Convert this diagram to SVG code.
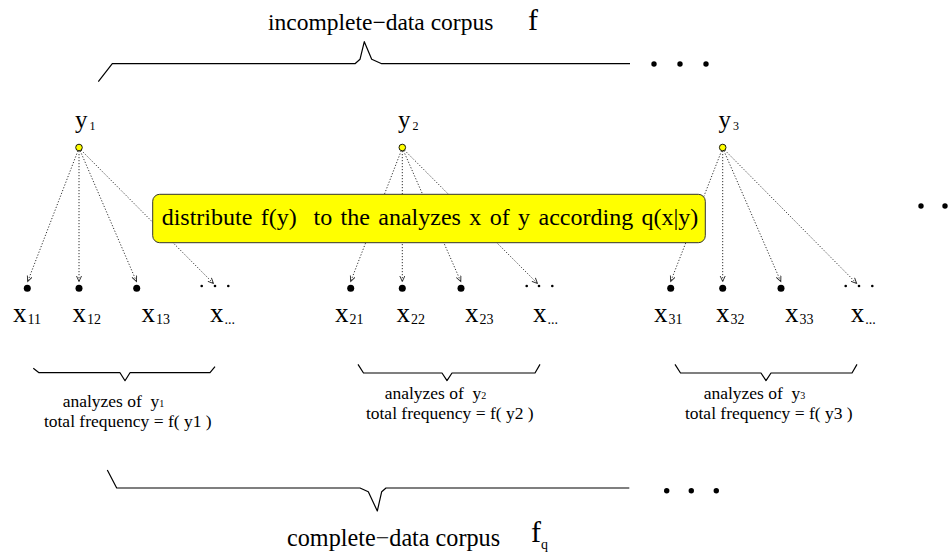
<svg xmlns="http://www.w3.org/2000/svg" width="948" height="557" viewBox="0 0 948 557">
  <style>
    text { font-family: "Liberation Serif", "Times New Roman", serif; fill: #000; }
    .title { font-size: 23.5px; }
    .title2 { font-size: 24.2px; }
    .big { font-size: 30px; }
    .ylab { font-size: 25px; }
    .xlab { font-size: 27px; }
    .sub { font-size: 14px; }
    .subs { font-size: 12px; }
    .note { font-size: 24px; word-spacing: 2.4px; }
    .small { font-size: 17.5px; }
    .tiny { font-size: 10px; }
    .brace { fill: none; stroke: #000; stroke-width: 1.2; stroke-linejoin: round; }
    .edge { fill: none; stroke: #333; stroke-width: 1; stroke-dasharray: 1.2 1.8; }
    .ynode { fill: #ffff00; stroke: #000; stroke-width: 0.9; }
    .xnode { fill: #000; }
    .box { fill: #ffff00; stroke: #333; stroke-width: 1; }
  </style>
  <defs>
    <marker id="arrow" markerUnits="userSpaceOnUse" markerWidth="8" markerHeight="8" refX="6" refY="3" orient="auto">
      <path d="M0.5,0.5 L6,3 L0.5,5.5" fill="none" stroke="#222" stroke-width="0.9"/>
    </marker>
  </defs>

  <rect width="948" height="557" fill="#fff"/>

  <!-- incomplete-data corpus -->
  <g id="incomplete-corpus">
    <text class="title" x="268" y="30">incomplete−data corpus</text>
    <text class="big" x="528" y="30">f</text>
    <path class="brace" d="M98.3,81.7 L112.3,63.7 L355,63.7 L360,59.3 L364.3,41.7 L371.7,59.3 L381.7,63.7 L630,63.7"/>
    <circle cx="654" cy="64" r="2.7"/>
    <circle cx="680" cy="64" r="2.7"/>
    <circle cx="706" cy="64" r="2.7"/>
  </g>

  <!-- connectors: y -> analyses x -->
  <g id="connectors" marker-end="url(#arrow)">
    <path class="edge" d="M79,148 L27.7,281.5"/>
    <path class="edge" d="M79,148 L79,281.5"/>
    <path class="edge" d="M79,148 L136.5,281.5"/>
    <path class="edge" d="M79,148 L213.5,283.5"/>
    <path class="edge" d="M402.3,148 L350.7,281.5"/>
    <path class="edge" d="M402.3,148 L402.3,281.5"/>
    <path class="edge" d="M402.3,148 L460.8,281.5"/>
    <path class="edge" d="M402.3,148 L537.5,283.5"/>
    <path class="edge" d="M722.7,148 L670.7,281.5"/>
    <path class="edge" d="M722.7,148 L722.7,281.5"/>
    <path class="edge" d="M722.7,148 L780.8,281.5"/>
    <path class="edge" d="M722.7,148 L856.7,283.5"/>
  </g>

  <!-- note box -->
  <g id="note">
    <rect class="box" x="152.7" y="194.3" width="552.6" height="48.4" rx="7" ry="7"/>
    <text class="note" x="161.7" y="225" xml:space="preserve">distribute f(y)  to the analyzes x of y according q(x|y)</text>
  </g>

  <!-- y nodes -->
  <g id="y1">
    <text class="ylab" x="75" y="128">y<tspan class="subs" dx="2" dy="2">1</tspan></text>
    <circle class="ynode" cx="79" cy="147.5" r="3.3"/>
  </g>
  <g id="y2">
    <text class="ylab" x="398" y="128">y<tspan class="subs" dx="2" dy="2">2</tspan></text>
    <circle class="ynode" cx="402.3" cy="147.5" r="3.3"/>
  </g>
  <g id="y3">
    <text class="ylab" x="718.5" y="128">y<tspan class="subs" dx="2" dy="2">3</tspan></text>
    <circle class="ynode" cx="722.7" cy="147.5" r="3.3"/>
  </g>

  <!-- analyses of y1 -->
  <g id="x11">
    <circle class="xnode" cx="27.3" cy="288.3" r="3.5"/>
    <text class="xlab" x="13" y="322">x<tspan class="sub" dx="1" dy="2">11</tspan></text>
  </g>
  <g id="x12">
    <circle class="xnode" cx="79" cy="288.3" r="3.5"/>
    <text class="xlab" x="72.5" y="322">x<tspan class="sub" dx="1" dy="2">12</tspan></text>
  </g>
  <g id="x13">
    <circle class="xnode" cx="136.7" cy="288.3" r="3.5"/>
    <text class="xlab" x="141.5" y="322">x<tspan class="sub" dx="1" dy="2">13</tspan></text>
  </g>
  <g id="x1more">
    <circle class="xnode" cx="201.7" cy="286" r="1.3"/>
    <circle class="xnode" cx="215" cy="286" r="1.3"/>
    <circle class="xnode" cx="228.3" cy="286" r="1.3"/>
    <text class="xlab" x="210" y="322">x<tspan class="sub" dx="1" dy="2">...</tspan></text>
  </g>

  <!-- analyses of y2 -->
  <g id="x21">
    <circle class="xnode" cx="350.7" cy="288.3" r="3.5"/>
    <text class="xlab" x="335" y="322">x<tspan class="sub" dx="1" dy="2">21</tspan></text>
  </g>
  <g id="x22">
    <circle class="xnode" cx="402.3" cy="288.3" r="3.5"/>
    <text class="xlab" x="396.5" y="322">x<tspan class="sub" dx="1" dy="2">22</tspan></text>
  </g>
  <g id="x23">
    <circle class="xnode" cx="461" cy="288.3" r="3.5"/>
    <text class="xlab" x="465" y="322">x<tspan class="sub" dx="1" dy="2">23</tspan></text>
  </g>
  <g id="x2more">
    <circle class="xnode" cx="526.7" cy="286" r="1.3"/>
    <circle class="xnode" cx="539" cy="286" r="1.3"/>
    <circle class="xnode" cx="552.3" cy="286" r="1.3"/>
    <text class="xlab" x="533" y="322">x<tspan class="sub" dx="1" dy="2">...</tspan></text>
  </g>

  <!-- analyses of y3 -->
  <g id="x31">
    <circle class="xnode" cx="670.7" cy="288.3" r="3.5"/>
    <text class="xlab" x="654" y="322">x<tspan class="sub" dx="1" dy="2">31</tspan></text>
  </g>
  <g id="x32">
    <circle class="xnode" cx="722.7" cy="288.3" r="3.5"/>
    <text class="xlab" x="716" y="322">x<tspan class="sub" dx="1" dy="2">32</tspan></text>
  </g>
  <g id="x33">
    <circle class="xnode" cx="781" cy="288.3" r="3.5"/>
    <text class="xlab" x="785" y="322">x<tspan class="sub" dx="1" dy="2">33</tspan></text>
  </g>
  <g id="x3more">
    <circle class="xnode" cx="845.7" cy="286" r="1.3"/>
    <circle class="xnode" cx="859" cy="286" r="1.3"/>
    <circle class="xnode" cx="872.3" cy="286" r="1.3"/>
    <text class="xlab" x="850.7" y="322">x<tspan class="sub" dx="1" dy="2">...</tspan></text>
  </g>

  <!-- further y's -->
  <g id="more-y">
    <circle cx="921" cy="206" r="2.7"/>
    <circle cx="945" cy="206" r="2.7"/>
  </g>

  <!-- per-y summaries -->
  <g id="group1">
    <path class="brace" d="M33.3,368.3 L39,372.7 L120,372.7 L125,380.7 L130,372.7 L210,372.7 L215,366.7"/>
    <text class="small" x="113.5" y="407" text-anchor="middle" xml:space="preserve">analyzes of  y<tspan class="tiny">1</tspan></text>
    <text class="small" x="127.8" y="427" text-anchor="middle">total frequency = f( y1 )</text>
  </g>
  <g id="group2">
    <path class="brace" d="M358,364.4 L363.5,373 L442,373 L447,380.6 L452,373 L535,373 L540,364.4"/>
    <text class="small" x="435.5" y="399" text-anchor="middle" xml:space="preserve">analyzes of  y<tspan class="tiny">2</tspan></text>
    <text class="small" x="449.8" y="419" text-anchor="middle">total frequency = f( y2 )</text>
  </g>
  <g id="group3">
    <path class="brace" d="M675,364.4 L680.5,373 L761,373 L766,380.6 L771,373 L852,373 L857,364.4"/>
    <text class="small" x="754.5" y="399" text-anchor="middle" xml:space="preserve">analyzes of  y<tspan class="tiny">3</tspan></text>
    <text class="small" x="768.8" y="419" text-anchor="middle">total frequency = f( y3 )</text>
  </g>

  <!-- complete-data corpus -->
  <g id="complete-corpus">
    <path class="brace" d="M107.3,470 L116.7,488 L360,488 L368.3,491.7 L377.3,511 L381.7,491.7 L386,488 L629.3,488"/>
    <circle cx="666.7" cy="490.7" r="2.7"/>
    <circle cx="691.3" cy="490.7" r="2.7"/>
    <circle cx="716.3" cy="490.7" r="2.7"/>
    <text class="title2" x="287" y="546">complete−data corpus</text>
    <text class="big" x="531" y="542">f<tspan class="sub" dy="7">q</tspan></text>
  </g>
</svg>
